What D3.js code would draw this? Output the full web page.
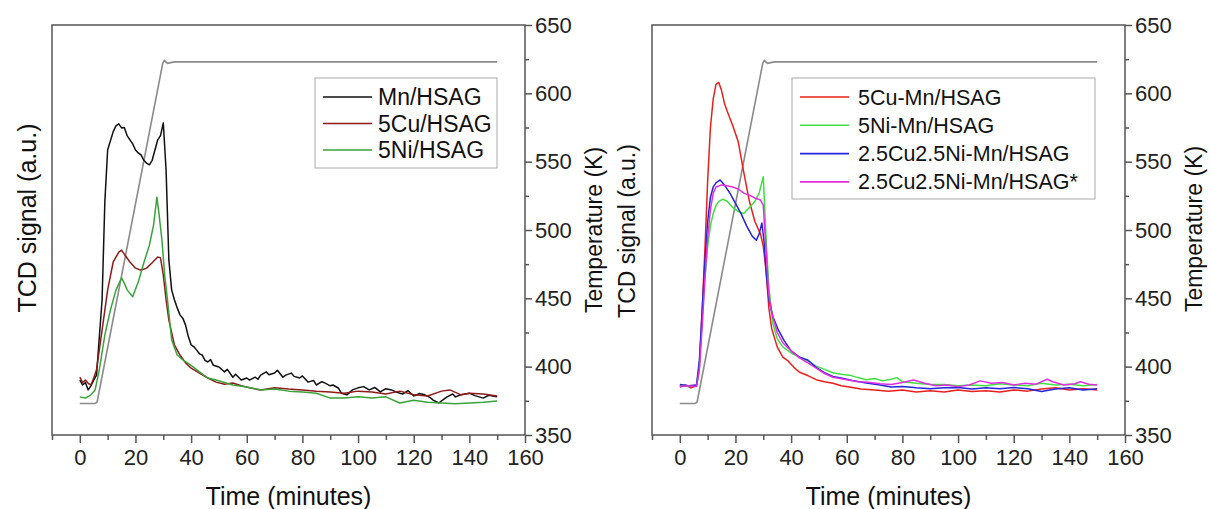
<!DOCTYPE html>
<html><head><meta charset="utf-8">
<script src="https://cdn.jsdelivr.net/npm/d3@7/dist/d3.min.js"></script>
<style>
html,body{margin:0;padding:0;background:#fff;}
svg{display:block;font-family:"Liberation Sans",Arial,sans-serif;}
</style></head>
<body><svg id="c" width="1211" height="509"></svg>
<script>
// ---------- DATA ----------
const xTicks = [0,20,40,60,80,100,120,140,160];
const xMinorTicks = [-10,10,30,50,70,90,110,130,150];
const tempTicks = [350,400,450,500,550,600,650];
const tempMinorTicks = [375,425,475,525,575,625];

// temperature programme (K) vs time (min)
const tempTime = [0,5.5,6.2,29.8,30.4,31.5,34,40,60,80,100,120,150];
const tempVal  = [373,373,374,622,624,622,623,623,623,623,623,623,623];

// left panel TCD signals (a.u.)
const mnTime = [0,1,2,3,4,5,6,8,9,10,12,13,14,15,16,17,18,19,20,21,22,23,24,25,26,27,28,29,30,31,32,33,34,35,36,37,38,39,40,41,42,43,44,45,46,47,48,50,52,53,55,56,58,60,61,63,64,65,67,68,70,71,73,74,76,77,79,80,82,84,85,87,88,90,91,93,94,96,98,100,102,104,106,108,110,112,114,116,118,120,122,124,126,127,129,131,132,134,135,137,140,142,145,147,150];
const mnVal  = [13.4,12.2,12.8,11,12,13.4,14.6,33,57,69.5,74,75.4,75.9,74.9,75,73,72,71,69.5,68.8,68.3,67,66.3,65.9,67,69.5,72,73,76.1,64.6,42.7,35.4,33,31,29.3,28.5,26.8,24,22,21.5,20.7,19.8,19.5,18.2,17.8,18.4,17,16.6,15.4,16,14.1,14.8,13.4,13.9,13.4,14.1,13.6,14.6,15.4,14.7,15.1,15.8,14.1,14.6,15.1,14.3,13.9,14.4,12.9,13.3,12.2,13,12.7,12,12.2,11.4,10.2,9.8,11,11.5,11.8,11,11.6,10.5,11.3,11,10.4,10,10.8,9.5,10.1,9.8,9.1,8.5,7.8,8.8,9.3,10,9.3,9.8,10.2,9.6,9,9.7,9.3];

const cuTime = [0,1,2,3,4,5,6,8,10,12,14,15,16,18,20,22,24,26,28,29,30,31,32,34,36,38,40,43,46,49,52,55,58,61,65,70,75,80,85,90,95,100,105,110,115,120,125,130,133,137,140,145,150];
const cuVal  = [14.1,12.8,13.4,12.6,12.2,13.9,15.9,25.6,35.4,42.2,44.6,45.1,44.1,42.2,40.7,40.2,40.7,42,43.4,43.2,39,33,28,22,19.5,17.6,16.3,15.1,13.9,12.9,12.4,12.7,12,11.5,11,11.5,11.2,11,10.7,10.5,10.2,10.7,10.5,10,10.7,9.8,9.5,10.7,11,9.8,10.2,10,9.5];

const niTime = [0,2,4,5.5,7,9,11,13,15,16,17,19,21,23,25,26.5,27.7,28.5,29.5,30.5,31.5,33,35,37,40,43,46,49,55,60,65,70,75,80,85,90,95,100,105,110,115,120,125,130,135,140,145,150];
const niVal  = [9.3,9,9.8,11,15.9,24.4,30.5,35.4,38.3,37,35.4,33.7,37.3,42,46.3,51.2,58,53.7,47.6,39,33,23.2,19.5,18.3,17,15.4,13.9,13.4,12.2,11.7,11,11.2,10.7,10.5,10.2,9,9,9.3,9,9.3,7.8,8.5,8,7.8,7.6,7.8,8,8.3];

// right panel TCD signals (a.u.)
const cuMnTime = [0,2,4,6,7,8,9,10,11,12,13,14,15,16,17,19,21,23,25,27,29,30,31,32,33,35,37,39,41,43,46,49,52,55,58,61,65,70,75,80,85,90,95,100,105,110,115,120,125,130,135,140,145,150];
const cuMnVal  = [11.7,12.2,11.5,12,16,30,45,62,75,82,85.5,86,84,81,79,75.5,71.5,64,57,52,49,46,40,31,26,21.5,19,18,16.5,15.3,14.5,13.5,13,12.6,12,11.7,11.2,11,10.7,11,10.5,10.8,10.5,11,10.6,10.8,10.5,11,10.7,11.2,11.5,11,11.3,11];

const niMnTime = [0,3,6,7,8,9,10,11,12,13,14,15.5,17,19,21,23,25,27,28.5,30,31,32,33.5,35,37,40,43,46,49,52,55,58,61,64,67,70,73,76,78,80,85,90,95,100,105,110,115,120,125,130,135,140,145,150];
const niMnVal  = [12,11.8,12.2,17,28,38,46,51,54,56,57,57.5,57,55.5,54.5,54,55.5,57,59,63,48,36,27,23.5,21.5,20,19,18,16.8,16,15.2,14.8,14.6,14,13.5,13.8,13.2,13.6,14,13,12.6,12.3,12.3,12,12.2,12,12.5,12.2,12,12.6,12.2,12.4,12,12.3];

const cuNiTime = [0,3,6,7,8,9,10,11,12,13,14.5,16,18,20,22,24,26,27.5,28.5,29.5,30.3,31,32,33.5,35.5,37.5,40,43,46,49,52,55,58,62,67,72,76,80,85,90,95,100,105,110,115,120,125,130,135,140,145,150];
const cuNiVal  = [12.3,12,12.2,18,30,42,52,58,60.5,61.5,62.2,61,59,56.5,54,51,48.5,47.5,49,51.7,47,40,33,28.8,25.5,23,20.5,19,18.3,16.5,15.2,14.3,13.9,13.3,12.7,12.2,11.7,11.8,11.5,11.3,11.5,11.6,11.2,11.5,11.3,11.6,11.3,10.6,11.2,11.5,11,11.3];

const cuNiStarTime = [0,3,6,7,8,9,10,11,12,13,15,17,19,21,23,25,27,29,30,31,32,33,35,37,40,43,46,49,52,55,60,64,67,72,76,80,84,88,92,96,100,104,108,112,116,120,124,128,132,134,138,142,144,147,150];
const cuNiStarVal  = [11.8,12,11.8,16,26,38,48,55,59,60.5,61,60.8,60.5,60,59,58.5,57.8,57.3,56,45,34,30,25,22.5,20.5,18.8,17.6,16.3,15,14.1,13.5,13,12.9,12.5,12.3,12.8,13.4,12.6,12,12.2,11.8,12.2,13.2,12.6,12.8,12.2,12.6,12.4,13.6,13,12.2,12.5,13,12.4,12.2];

const leftNames  = ["Mn/HSAG","5Cu/HSAG","5Ni/HSAG"];
const leftColors = ["#111111","#8e1b1b","#3aa33a"];
const rightNames  = ["5Cu-Mn/HSAG","5Ni-Mn/HSAG","2.5Cu2.5Ni-Mn/HSAG","2.5Cu2.5Ni-Mn/HSAG*"];
const rightColors = ["#e8201c","#3fe03f","#2424d8","#e22ee2"];

// ---------- DRAW ----------
const svg = d3.select("#c");
const yTop = 25, yBottom = 435;
const FRAME = "#555";

function zip(t, v){ return t.map((d,i)=>[d, v[i]]); }

function panel(x0, x1, series, names, colors, legendBox, rowH, legendFont, textOff, labels){
  const g = svg.append("g");
  const x = d3.scaleLinear().domain([-10,160]).range([x0,x1]);
  const yT = d3.scaleLinear().domain([350,650]).range([yBottom,yTop]);
  const yS = d3.scaleLinear().domain([0,100]).range([yBottom,yTop]);

  const lineT = d3.line().x(d=>x(d[0])).y(d=>yT(d[1]));
  g.append("path").datum(zip(tempTime,tempVal)).attr("d",lineT)
    .attr("fill","none").attr("stroke","#8a8a8a").attr("stroke-width",1.6);

  const lineS = d3.line().x(d=>x(d[0])).y(d=>yS(d[1]));
  series.forEach((s,i)=>{
    g.append("path").datum(zip(s[0],s[1])).attr("d",lineS)
      .attr("fill","none").attr("stroke",colors[i]).attr("stroke-width",1.5)
      .attr("stroke-linejoin","round");
  });

  g.append("rect").attr("x",x0).attr("y",yTop).attr("width",x1-x0).attr("height",yBottom-yTop)
    .attr("fill","none").attr("stroke",FRAME).attr("stroke-width",1.5);

  const ax = g.append("g").attr("transform",`translate(0,${yBottom})`)
    .call(d3.axisBottom(x).tickValues(xTicks).tickSize(8).tickPadding(6).tickFormat(d3.format("d")));
  ax.select(".domain").remove();
  ax.selectAll(".tick line").attr("stroke",FRAME).attr("stroke-width",1.5);
  ax.selectAll(".tick text").attr("font-size",22).attr("fill","#222")
    .attr("font-family","Liberation Sans, Arial, sans-serif");
  const axm = g.append("g").attr("transform",`translate(0,${yBottom})`)
    .call(d3.axisBottom(x).tickValues(xMinorTicks).tickSize(5).tickFormat(""));
  axm.select(".domain").remove();
  axm.selectAll(".tick line").attr("stroke",FRAME).attr("stroke-width",1.5);

  const ar = g.append("g").attr("transform",`translate(${x1},0)`)
    .call(d3.axisRight(yT).tickValues(tempTicks).tickSize(7).tickPadding(3).tickFormat(d3.format("d")));
  ar.select(".domain").remove();
  ar.selectAll(".tick line").attr("stroke",FRAME).attr("stroke-width",1.5);
  ar.selectAll(".tick text").attr("font-size",22).attr("fill","#222")
    .attr("font-family","Liberation Sans, Arial, sans-serif");
  const arm = g.append("g").attr("transform",`translate(${x1},0)`)
    .call(d3.axisRight(yT).tickValues(tempMinorTicks).tickSize(4).tickFormat(""));
  arm.select(".domain").remove();
  arm.selectAll(".tick line").attr("stroke",FRAME).attr("stroke-width",1.5);

  g.append("text").attr("x",(x0+x1)/2).attr("y",505).attr("text-anchor","middle")
    .attr("font-size",25).attr("fill","#111").text("Time (minutes)");
  g.append("text").attr("transform",`translate(${labels.tcdX},${labels.tcdY}) rotate(-90)`)
    .attr("text-anchor","middle").attr("font-size",labels.tcdSize).attr("fill","#111").text("TCD signal (a.u.)");
  g.append("text").attr("transform",`translate(${labels.tX},${labels.tY}) rotate(-90)`)
    .attr("text-anchor","middle").attr("font-size",23).attr("fill","#111").text("Temperature (K)");

  const lg = g.append("g");
  lg.append("rect").attr("x",legendBox[0]).attr("y",legendBox[1])
    .attr("width",legendBox[2]).attr("height",legendBox[3])
    .attr("fill","#fff").attr("stroke","#aaa").attr("stroke-width",1);
  names.forEach((n,i)=>{
    const cy = legendBox[1] + 19 + i*rowH;
    lg.append("line").attr("x1",legendBox[0]+8).attr("x2",legendBox[0]+57)
      .attr("y1",cy).attr("y2",cy).attr("stroke",colors[i]).attr("stroke-width",1.6);
    lg.append("text").attr("x",legendBox[0]+textOff).attr("y",cy).attr("dy","0.35em")
      .attr("font-size",legendFont).attr("fill","#111").text(n);
  });
}

panel(52, 525,
  [[mnTime,mnVal],[cuTime,cuVal],[niTime,niVal]],
  leftNames, leftColors, [315,78,182,90], 26.5, 23, 63,
  {tcdX:36, tcdY:218, tcdSize:25, tX:602, tY:230});

panel(652, 1125,
  [[cuMnTime,cuMnVal],[niMnTime,niMnVal],[cuNiTime,cuNiVal],[cuNiStarTime,cuNiStarVal]],
  rightNames, rightColors, [792,78,303,121], 28.3, 21.5, 66,
  {tcdX:635, tcdY:231, tcdSize:23, tX:1202, tY:229});
</script>
</body></html>
